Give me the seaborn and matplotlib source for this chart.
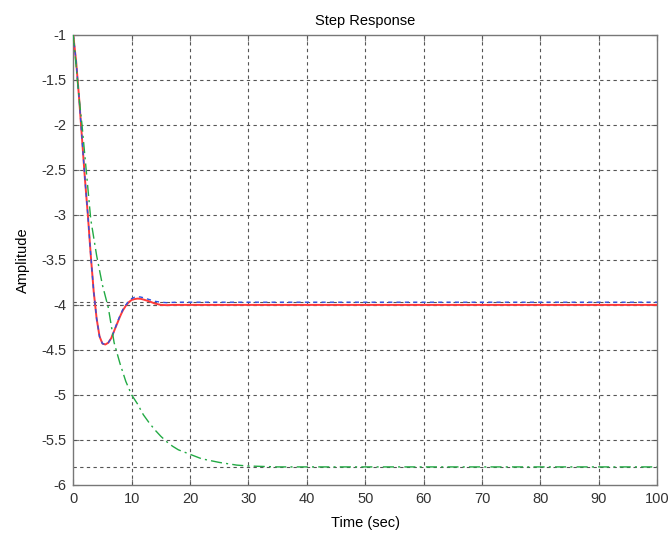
import matplotlib
matplotlib.use("Agg")
import matplotlib.pyplot as plt
import seaborn as sns
import pandas as pd

# ---- data ----
t_fast = [0, 0.5, 1, 1.5, 2, 2.5, 3, 3.5, 4, 4.5, 5, 5.5, 6, 6.5, 7, 7.5, 8,
          8.5, 9, 9.5, 10, 10.5, 11, 11.5, 12, 13, 14, 15, 16, 17, 18, 20, 100]
red_vals = [-1, -1.3, -1.7, -2.15, -2.6, -3.0, -3.45, -3.85, -4.15, -4.35, -4.43,
            -4.44, -4.42, -4.37, -4.29, -4.21, -4.13, -4.06, -4.01, -3.97, -3.945,
            -3.935, -3.93, -3.932, -3.94, -3.96, -3.985, -4.0, -4.003, -4.0, -4.0,
            -4.0, -4.0]
blue_vals = [-1, -1.3, -1.7, -2.15, -2.6, -3.0, -3.45, -3.85, -4.15, -4.35, -4.43,
             -4.44, -4.42, -4.37, -4.29, -4.2, -4.12, -4.05, -4.0, -3.96, -3.93,
             -3.915, -3.91, -3.912, -3.92, -3.94, -3.96, -3.97, -3.975, -3.972,
             -3.97, -3.97, -3.97]

t_slow = [0, 1, 1.5, 2, 3, 4, 5, 6, 7, 8, 9, 10, 11, 12, 13, 14, 15, 16, 17, 18,
          20, 22, 25, 28, 30, 35, 40, 100]
green_vals = [-1, -1.7, -2.0, -2.35, -3.05, -3.45, -3.78, -4.03, -4.42, -4.65,
              -4.85, -5.0, -5.1, -5.22, -5.31, -5.39, -5.46, -5.52, -5.57, -5.61,
              -5.66, -5.71, -5.75, -5.78, -5.79, -5.8, -5.8, -5.8]

steady_levels = [-3.97, -4.0, -5.8]
x_ticks = [0, 10, 20, 30, 40, 50, 60, 70, 80, 90, 100]
y_ticks = [-6, -5.5, -5, -4.5, -4, -3.5, -3, -2.5, -2, -1.5, -1]
y_labels = ["-6", "-5.5", "-5", "-4.5", "-4", "-3.5", "-3", "-2.5", "-2", "-1.5", "-1"]

sns.set_theme(style="white")
plt.rcParams['font.family'] = ['Liberation Sans', 'DejaVu Sans']

fig = plt.figure(figsize=(6.72, 5.37), dpi=100)
ax = fig.add_axes([0.109, 0.097, 0.869, 0.838])

grid_kw = dict(color="#555555", linewidth=0.8, linestyle=(0, (3, 3)), zorder=1)
for xv in x_ticks[1:-1]:
    ax.axvline(xv, **grid_kw)
for yv in y_ticks[1:-1]:
    ax.axhline(yv, **grid_kw)
for yv in steady_levels:
    ax.axhline(yv, **grid_kw)

df_red = pd.DataFrame({"t": t_fast, "y": red_vals})
df_blue = pd.DataFrame({"t": t_fast, "y": blue_vals})
df_green = pd.DataFrame({"t": t_slow, "y": green_vals})

sns.lineplot(data=df_red, x="t", y="y", ax=ax, color="#ff3a3a", linewidth=1.4,
             estimator=None, sort=False, zorder=3)
sns.lineplot(data=df_blue, x="t", y="y", ax=ax, color="#3050e0", linewidth=1.0,
             linestyle=(0, (3, 3)), estimator=None, sort=False, zorder=4)
sns.lineplot(data=df_green, x="t", y="y", ax=ax, color="#22aa44", linewidth=1.0,
             linestyle=(0, (8, 3, 1.5, 3)), estimator=None, sort=False, zorder=5)

ax.set_xlim(0, 100)
ax.set_ylim(-6, -1)
ax.set_xticks(x_ticks)
ax.set_xticklabels([str(v) for v in x_ticks])
ax.set_yticks(y_ticks)
ax.set_yticklabels(y_labels)
ax.tick_params(axis="both", direction="in", length=4, width=0.8, color="#777777",
               labelsize=10.5, labelcolor="#333333", top=True, right=True,
               bottom=True, left=True, pad=5)
for s in ax.spines.values():
    s.set_color("#777777")
    s.set_linewidth(1.0)

ax.set_title("Step Response", fontsize=10.5, color="black", pad=7)
ax.set_xlabel("Time (sec)", fontsize=10.5, color="black", labelpad=7)
ax.set_ylabel("Amplitude", fontsize=10.5, color="black", labelpad=8)

fig.savefig("out.png", dpi=100, facecolor="white")
